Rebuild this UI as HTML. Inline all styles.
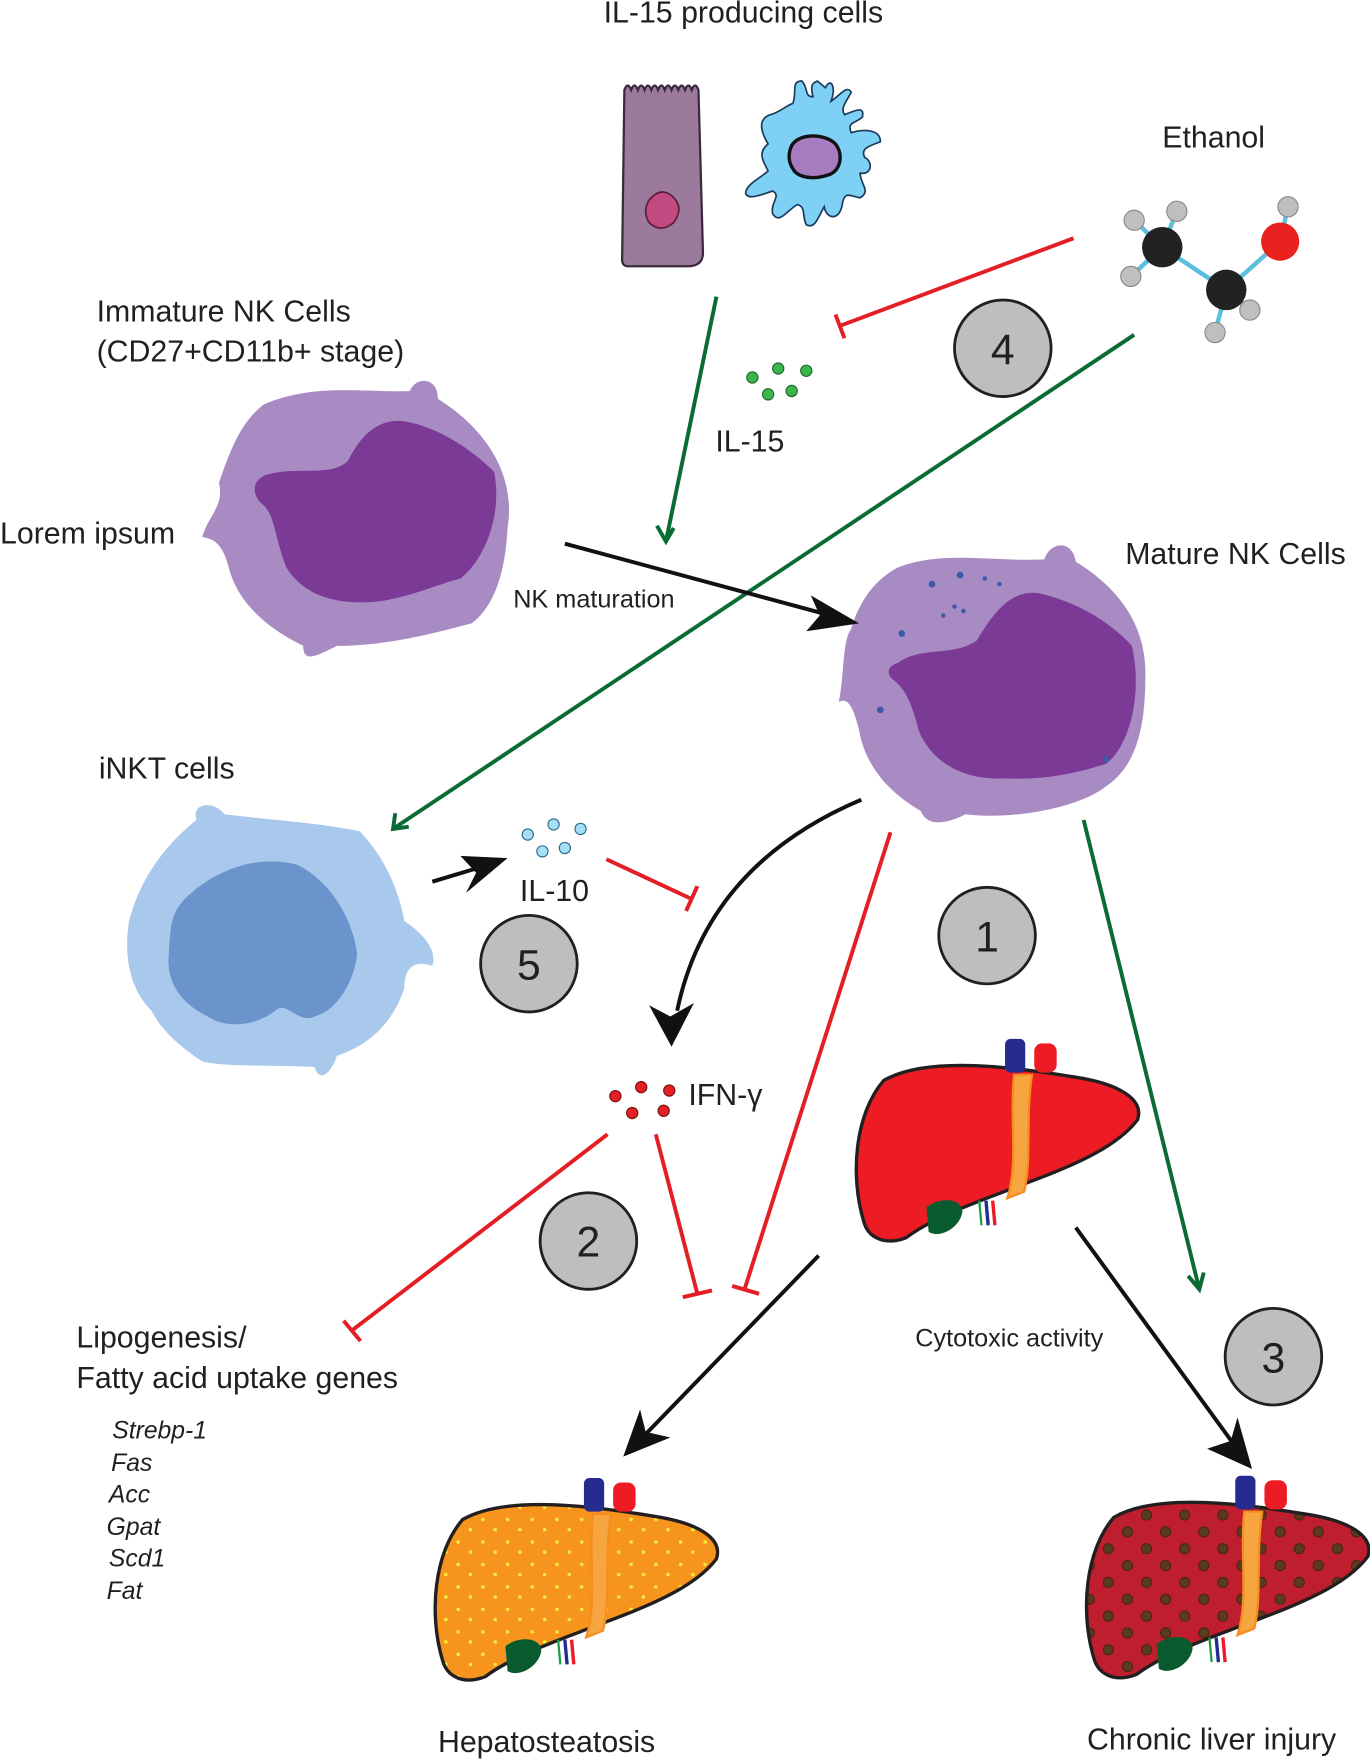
<!DOCTYPE html>
<html><head><meta charset="utf-8"><style>
html,body{margin:0;padding:0;background:#fff;}
svg{display:block}
text{font-family:"Liberation Sans",sans-serif;fill:#231f20}
</style></head><body>
<svg width="1370" height="1760" viewBox="0 0 1220 1567" xmlns="http://www.w3.org/2000/svg">
<defs>
<pattern id="ydots" width="22" height="20" patternUnits="userSpaceOnUse">
<circle cx="4" cy="5" r="1.6" fill="#f4ee3a"/><circle cx="15" cy="14" r="1.6" fill="#f4ee3a"/>
</pattern>
<pattern id="bdots" width="34" height="30" patternUnits="userSpaceOnUse">
<circle cx="8" cy="8" r="4.5" fill="#5b3a1e" stroke="#3a2410" stroke-width="0.8"/><circle cx="25" cy="23" r="4.5" fill="#5b3a1e" stroke="#3a2410" stroke-width="0.8"/>
</pattern>
<path id="lv" d="M12,150 C0,110 4,55 30,25 C70,2 150,14 200,22 C240,28 262,42 256,60 C232,92 172,110 132,126 C100,138 70,150 50,165 C32,172 16,166 12,150 Z"/>
<g id="lvx">
<rect x="138" y="-12" width="18" height="30" rx="5" fill="#262b8f"/>
<rect x="164" y="-8" width="20" height="26" rx="7" fill="#ed1c24"/>
<path d="M146,20 C142,60 150,100 140,130 L155,124 C162,95 156,60 162,20 Z" fill="#f7a541" stroke="#f68e1e" stroke-width="2"/>
<path d="M68,138 C80,128 100,130 100,142 C98,156 80,166 70,160 Z" fill="#0a5a30"/>
<path d="M115,132 l2,22" stroke="#1b9d46" stroke-width="2"/>
<path d="M121,132 l2,22" stroke="#262b8f" stroke-width="3"/>
<path d="M127,132 l2,22" stroke="#ed1c24" stroke-width="3"/>
</g>
</defs>

<!-- texts -->
<text x="662" y="20" font-size="27" text-anchor="middle">IL-15 producing cells</text>
<text x="1035" y="131" font-size="27">Ethanol</text>
<text x="86" y="286" font-size="27">Immature NK Cells</text>
<text x="86" y="322" font-size="27">(CD27+CD11b+ stage)</text>
<text x="0" y="484" font-size="27">Lorem ipsum</text>
<text x="637" y="402" font-size="27">IL-15</text>
<text x="457" y="541" font-size="22.5">NK maturation</text>
<text x="1002" y="502" font-size="27">Mature NK Cells</text>
<text x="88" y="693" font-size="27">iNKT cells</text>
<text x="463" y="802" font-size="27">IL-10</text>
<text x="613" y="984" font-size="27">IFN-γ</text>
<text x="815" y="1199" font-size="22.5">Cytotoxic activity</text>
<text x="68" y="1200" font-size="27">Lipogenesis/</text>
<text x="68" y="1236" font-size="27">Fatty acid uptake genes</text>
<g font-size="22" font-style="italic">
<text x="100" y="1281">Strebp-1</text><text x="99" y="1310">Fas</text><text x="97" y="1338">Acc</text>
<text x="95" y="1367">Gpat</text><text x="97" y="1395">Scd1</text><text x="95" y="1424">Fat</text>
</g>
<text x="390" y="1560" font-size="27">Hepatosteatosis</text>
<text x="968" y="1558" font-size="27">Chronic liver injury</text>

<!-- IL-15 producing cells -->
<path d="M556,80 q3,-8 6,0 q3,-8 6,0 q3,-8 6,0 q3,-8 6,0 q3,-8 6,0 q3,-8 6,0 q3,-8 6,0 q3,-8 6,0 q3,-8 6,0 q3,-8 6,0 q3,-8 6,0 L626,225 q0,12 -14,12 L560,237 q-6,0 -6,-6 Z" fill="#9b7a9c" stroke="#3b2a3b" stroke-width="2"/>
<path d="M578,178 q10,-12 20,-4 q12,10 2,24 q-12,10 -22,0 q-6,-10 0,-20Z" fill="#c24a80" stroke="#5a1f3a" stroke-width="1.5"/>
<path d="M735,78 c5,-10 10,0 5,12 c8,-5 14,-15 18,-8 c-4,8 -10,14 -6,20 c10,-4 18,-8 16,2 c-6,6 -14,4 -10,14 c14,-4 26,-2 26,8 c-10,4 -18,6 -14,14 c8,4 6,16 -4,14 c0,10 10,16 0,22 c-10,-2 -14,-6 -16,6 c-2,14 -14,14 -16,2 c-6,10 -8,20 -16,16 c-4,-8 0,-16 -8,-18 c-10,6 -16,18 -22,8 c-2,-10 8,-16 0,-20 c-12,4 -22,8 -24,2 c0,-8 14,-14 20,-20 c-4,-8 -10,-16 0,-24 c-6,-10 -10,-22 2,-26 c8,-2 14,-8 20,-10 c4,-10 -2,-20 8,-20 c6,6 2,14 10,14 c-2,-8 -2,-12 4,-14 Z" fill="#7fd0f5" stroke="#1a3a5a" stroke-width="1.5"/>
<path d="M704,132 c4,-14 30,-14 40,-4 c8,10 4,26 -8,28 c-12,4 -26,2 -30,-6 c-4,-6 -4,-12 -2,-18Z" fill="#a77bbf" stroke="#111" stroke-width="3"/>

<!-- ethanol -->
<g stroke="#5bc0de" stroke-width="4">
<line x1="1035" y1="220" x2="1092" y2="258"/><line x1="1092" y1="258" x2="1140" y2="215"/>
<line x1="1035" y1="220" x2="1010" y2="196"/><line x1="1035" y1="220" x2="1048" y2="188"/>
<line x1="1035" y1="220" x2="1007" y2="246"/><line x1="1092" y1="258" x2="1082" y2="296"/>
<line x1="1092" y1="258" x2="1113" y2="276"/><line x1="1140" y1="215" x2="1147" y2="184"/>
</g>
<g fill="#bfbfbf" stroke="#888" stroke-width="1">
<circle cx="1010" cy="196" r="9"/><circle cx="1048" cy="188" r="9"/><circle cx="1007" cy="246" r="9"/>
<circle cx="1082" cy="296" r="9"/><circle cx="1113" cy="276" r="9"/><circle cx="1147" cy="184" r="9"/>
</g>
<circle cx="1035" cy="220" r="18" fill="#222"/><circle cx="1092" cy="258" r="18" fill="#222"/>
<circle cx="1140" cy="215" r="17" fill="#e8231f"/>

<!-- cells -->
<path d="M235,360 C280,340 330,350 365,348 C370,335 390,335 390,355 C430,380 460,420 452,470 C450,510 440,540 420,555 C400,560 350,575 300,575 C280,585 270,590 270,575 C240,560 215,540 205,510 C200,490 195,480 180,478 C185,460 200,450 195,430 C205,400 215,375 235,360Z" fill="#a98bc4"/>
<path d="M240,422 C265,415 295,425 310,410 C320,390 335,372 360,375 C390,380 420,400 440,420 C448,460 430,500 410,515 C390,520 370,530 340,535 C300,540 270,530 255,505 C245,480 245,460 235,450 C222,440 225,425 240,422Z" fill="#7b3a96"/>

<path d="M800,505 C840,490 880,500 930,498 C935,482 955,480 958,500 C990,520 1020,550 1020,600 C1020,640 1015,680 985,700 C960,720 900,730 860,725 C840,735 825,735 820,722 C790,705 770,680 765,650 C760,630 755,620 747,625 C752,600 750,570 758,560 C765,535 780,515 800,505Z" fill="#a98bc4"/>
<path d="M800,590 C820,575 850,585 870,570 C885,545 900,525 925,528 C955,535 985,550 1008,575 C1018,620 1005,665 985,680 C960,688 930,695 895,693 C860,695 830,680 818,650 C812,625 805,612 795,605 C788,598 792,592 800,590Z" fill="#7b3a96"/>
<g fill="#3a5aa8"><circle cx="830" cy="520" r="3"/><circle cx="855" cy="512" r="3"/><circle cx="877" cy="515" r="2"/><circle cx="890" cy="520" r="2"/><circle cx="850" cy="540" r="2"/><circle cx="840" cy="548" r="2"/><circle cx="858" cy="544" r="2"/><circle cx="803" cy="564" r="3"/><circle cx="784" cy="632" r="3"/><circle cx="985" cy="676" r="3"/></g>

<path d="M175,730 C170,715 190,712 200,725 C240,730 280,732 320,740 C340,760 355,790 360,820 C375,830 390,845 385,860 C370,855 360,860 360,880 C350,910 330,930 300,940 C295,955 285,965 280,950 C240,948 200,950 180,945 C165,935 145,920 135,900 C115,880 110,850 115,820 C125,780 150,750 175,730Z" fill="#a8c8ec"/>
<path d="M165,800 C190,775 230,760 265,770 C295,785 315,820 318,850 C315,875 300,900 280,905 C265,912 255,890 245,900 C225,915 200,915 185,905 C165,895 150,880 150,855 C152,830 150,815 165,800Z" fill="#6b93cc"/>

<!-- dots -->
<g fill="#3cb54a" stroke="#1c6a2c" stroke-width="1"><circle cx="670" cy="336" r="5"/><circle cx="693" cy="328" r="5"/><circle cx="718" cy="330" r="5"/><circle cx="684" cy="351" r="5"/><circle cx="705" cy="348" r="5"/></g>
<g fill="#a6def5" stroke="#2a6a8a" stroke-width="1"><circle cx="470" cy="743" r="5"/><circle cx="493" cy="734" r="5"/><circle cx="517" cy="738" r="5"/><circle cx="483" cy="758" r="5"/><circle cx="503" cy="755" r="5"/></g>
<g fill="#e31e24" stroke="#7a1010" stroke-width="1"><circle cx="548" cy="976" r="5"/><circle cx="571" cy="968" r="5"/><circle cx="596" cy="971" r="5"/><circle cx="563" cy="991" r="5"/><circle cx="591" cy="989" r="5"/></g>

<!-- livers -->
<g transform="translate(757,937)"><use href="#lv" fill="#ed1c24" stroke="#231f20" stroke-width="3"/><use href="#lvx"/></g>
<g transform="translate(382,1328)"><use href="#lv" fill="#f7941d"/><use href="#lv" fill="url(#ydots)" stroke="#231f20" stroke-width="3"/><use href="#lvx"/></g>
<g transform="translate(962,1326)"><use href="#lv" fill="#be1e2d"/><use href="#lv" fill="url(#bdots)" stroke="#231f20" stroke-width="3"/><use href="#lvx"/></g>

<!-- connectors -->
<g fill="none" stroke-width="3.5">
<path d="M956,212 L748,290 M744,280 L752,301" stroke="#e31e24"/>
<path d="M540,765 L615,800 M621,789 L611,811" stroke="#e31e24"/>
<path d="M793,741 L663,1148 M652,1145 L676,1152" stroke="#e31e24"/>
<path d="M541,1010 L313,1185 M306,1176 L321,1194" stroke="#e31e24"/>
<path d="M584,1010 L621,1152 M608,1155 L634,1149" stroke="#e31e24"/>
<path d="M638,264 L593,482 M585,468 L593,482 L600,470" stroke="#0a6b35"/>
<path d="M1010,298 L350,738 M352,724 L350,738 L364,736" stroke="#0a6b35"/>
<path d="M965,730 L1068,1148 M1058,1136 L1068,1148 L1072,1133" stroke="#0a6b35"/>
<path d="M503,484 L740,548" stroke="#111"/>
<path d="M385,785 L428,772" stroke="#111"/>
<path d="M767,712 Q630,770 603,900" stroke="#111"/>
<path d="M729,1118 L575,1277" stroke="#111"/>
<path d="M958,1093 L1098,1285" stroke="#111"/>
</g>
<g fill="#111">
<path d="M765,555 L718,562 L730,548 L722,530 Z"/>
<path d="M452,764 L415,795 L424,777 L410,762 Z"/>
<path d="M598,932 L578,895 L597,905 L618,893 Z"/>
<path d="M555,1297 L570,1255 L575,1275 L597,1280 Z"/>
<path d="M1115,1308 L1075,1290 L1096,1283 L1102,1262 Z"/>
</g>

<!-- numbered circles -->
<g fill="#bcbec0" stroke="#231f20" stroke-width="2.5">
<circle cx="893" cy="310" r="43"/><circle cx="471" cy="858" r="43"/><circle cx="879" cy="833" r="43"/><circle cx="524" cy="1105" r="43"/><circle cx="1134" cy="1208" r="43"/>
</g>
<g font-size="38" text-anchor="middle">
<text x="893" y="324">4</text><text x="471" y="872">5</text><text x="879" y="847">1</text><text x="524" y="1119">2</text><text x="1134" y="1222">3</text>
</g>
</svg>
</body></html>
